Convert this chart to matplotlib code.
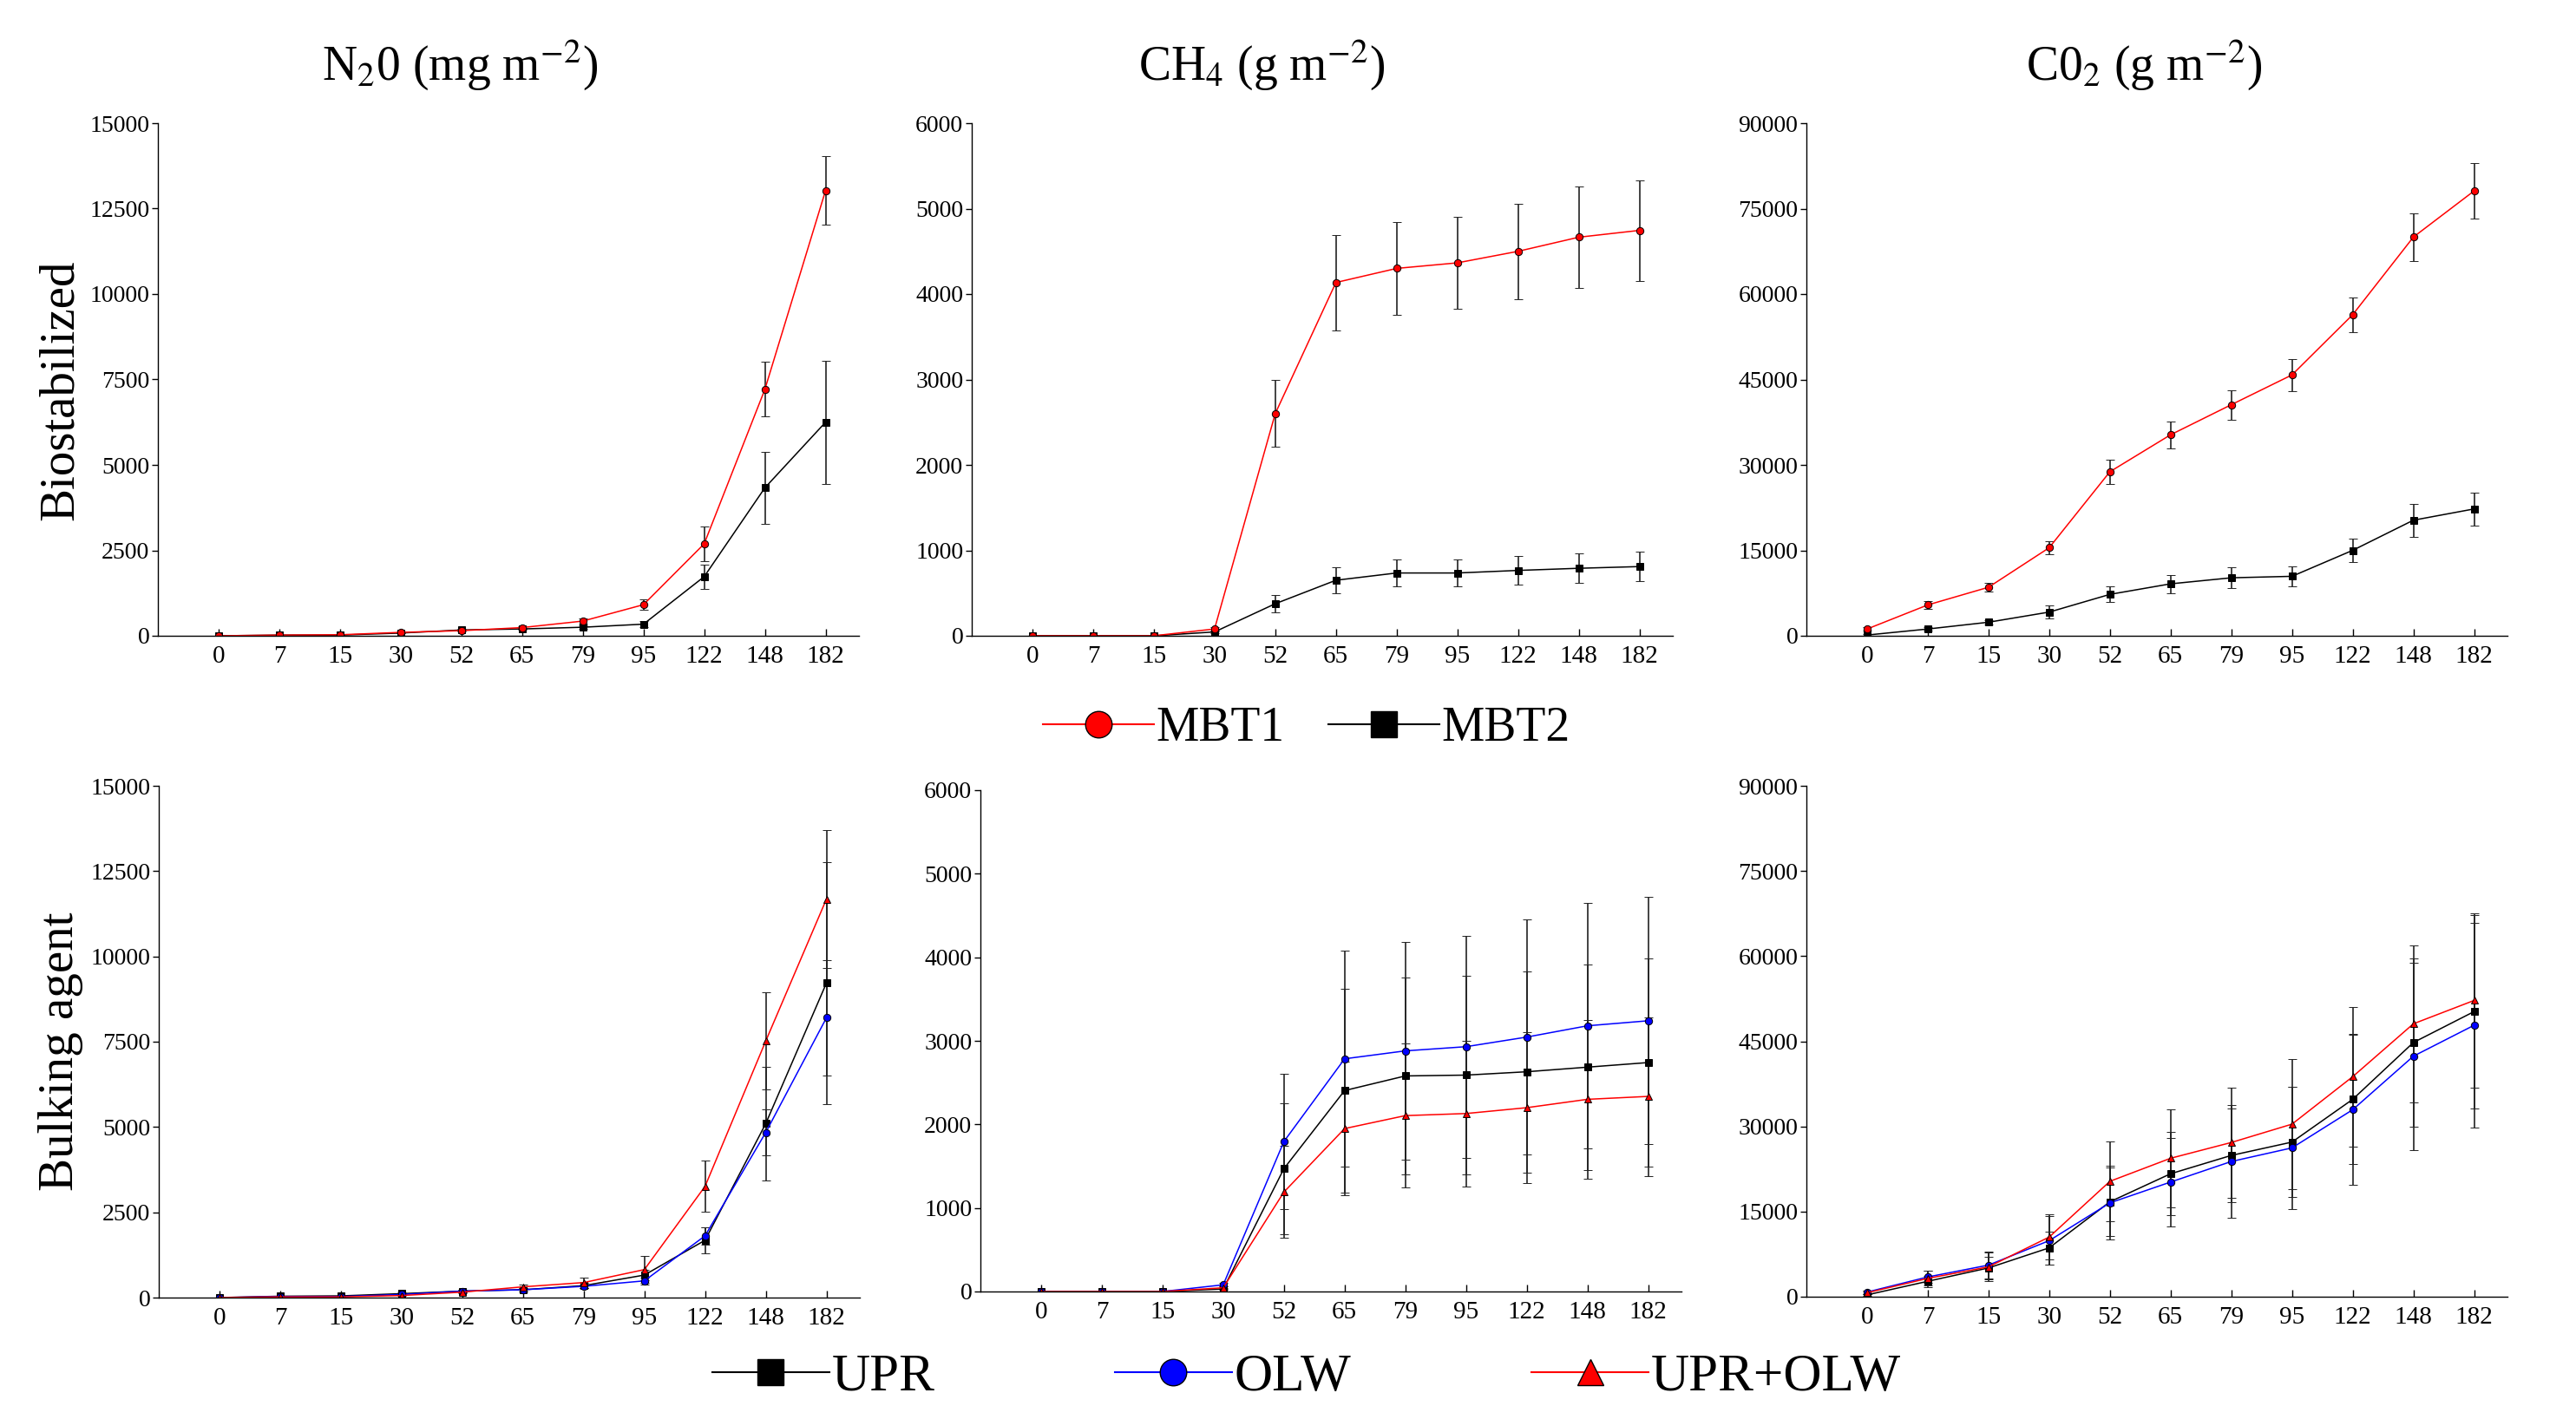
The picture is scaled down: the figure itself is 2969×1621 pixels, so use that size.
import matplotlib.pyplot as plt
from matplotlib.lines import Line2D

plt.rcParams['font.family'] = ['Liberation Serif', 'DejaVu Serif']
plt.rcParams['mathtext.fontset'] = 'stix'

days = ['0', '7', '15', '30', '52', '65', '79', '95', '122', '148', '182']

# Biostabilized (MBT1 / MBT2)
n2o_mbt1 = [0, 20, 30, 100, 150, 240, 430, 910, 2690, 7210, 13030]
n2o_mbt1_err = [0, 10, 10, 20, 30, 40, 80, 150, 500, 800, 1000]
n2o_mbt2 = [0, 20, 20, 80, 170, 200, 250, 340, 1730, 4330, 6250]
n2o_mbt2_err = [0, 5, 5, 15, 30, 30, 50, 80, 350, 1050, 1800]

ch4_mbt1 = [0, 0, 0, 80, 2600, 4135, 4300, 4365, 4500, 4665, 4745]
ch4_mbt1_err = [0, 0, 0, 20, 390, 560, 540, 540, 560, 590, 590]
ch4_mbt2 = [0, 0, 0, 45, 375, 650, 735, 735, 765, 790, 810]
ch4_mbt2_err = [0, 0, 0, 10, 105, 150, 155, 155, 165, 170, 170]

co2_mbt1 = [1190, 5420, 8520, 15460, 28800, 35290, 40570, 45800, 56370, 70000, 78100]
co2_mbt1_err = [300, 700, 700, 1200, 2100, 2400, 2600, 2800, 3000, 4200, 4900]
co2_mbt2 = [130, 1190, 2380, 4160, 7270, 9120, 10180, 10440, 15000, 20290, 22270]
co2_mbt2_err = [100, 300, 400, 1100, 1400, 1600, 1800, 1700, 2100, 2900, 2900]

# Bulking agent (UPR / OLW / UPR+OLW)
n2o_upr = [0, 40, 50, 115, 190, 230, 350, 660, 1680, 5100, 9220]
n2o_upr_err = [0, 10, 10, 30, 40, 50, 80, 150, 380, 1660, 3550]
n2o_olw = [0, 30, 30, 90, 190, 230, 330, 490, 1810, 4840, 8200]
n2o_olw_err = [0, 10, 10, 20, 40, 50, 60, 100, 250, 680, 1700]
n2o_mix = [0, 20, 20, 60, 160, 315, 440, 820, 3260, 7520, 11680]
n2o_mix_err = [0, 10, 10, 20, 40, 60, 150, 390, 750, 1420, 2020]

ch4_upr = [0, 0, 0, 30, 1470, 2405, 2580, 2590, 2630, 2685, 2740]
ch4_upr_err = [0, 0, 0, 10, 780, 1220, 1180, 1185, 1205, 1230, 1250]
ch4_olw = [0, 0, 0, 80, 1795, 2785, 2880, 2930, 3045, 3180, 3240]
ch4_olw_err = [0, 0, 0, 20, 810, 1290, 1300, 1330, 1410, 1470, 1480]
ch4_mix = [0, 0, 0, 45, 1190, 1950, 2105, 2130, 2200, 2300, 2335]
ch4_mix_err = [0, 0, 0, 15, 550, 800, 860, 870, 900, 950, 950]

co2_upr = [320, 2720, 5070, 8610, 16720, 21660, 24890, 27240, 34770, 44780, 50230]
co2_upr_err = [200, 1000, 2000, 2900, 6000, 7300, 8200, 9700, 11400, 14800, 17000]
co2_olw = [820, 3480, 5570, 9880, 16530, 20200, 23820, 26220, 32940, 42370, 47820]
co2_olw_err = [300, 1100, 2300, 4300, 6500, 7800, 9900, 10800, 13300, 16500, 18000]
co2_mix = [700, 3230, 5260, 10510, 20330, 24390, 27170, 30400, 38760, 48080, 52190]
co2_mix_err = [300, 1300, 2500, 4000, 7000, 8600, 9700, 11500, 12300, 13800, 15400]

W, H = 2969, 1621
fig = plt.figure(figsize=(W / 100, H / 100), dpi=100)


def px_axes(left, top, right, bottom):
    return fig.add_axes([left / W, 1 - bottom / H, (right - left) / W, (bottom - top) / H])


STYLE = {
    'MBT1': dict(color='red', marker='o', mfc='red'),
    'MBT2': dict(color='black', marker='s', mfc='black'),
    'UPR': dict(color='black', marker='s', mfc='black'),
    'OLW': dict(color='blue', marker='o', mfc='blue'),
    'UPR+OLW': dict(color='red', marker='^', mfc='red'),
}


def draw_panel(ax, series, ymax, ystep):
    x = list(range(len(days)))
    for name, vals, errs in series:
        st = STYLE[name]
        ax.errorbar(x, vals, yerr=errs, color=st['color'], marker=st['marker'],
                    mfc=st['mfc'], mec='black', mew=0.7, ms=6, lw=1.1,
                    ecolor='#222222', elinewidth=1.2, capsize=3.5, capthick=1.2)
    ax.set_xlim(-1.0, 10.55)
    ax.set_ylim(0, ymax)
    ax.set_xticks(x)
    ax.set_xticklabels(days)
    ax.set_yticks(range(0, ymax + 1, ystep))
    for s in ['top', 'right']:
        ax.spines[s].set_visible(False)
    for s in ['left', 'bottom']:
        ax.spines[s].set_linewidth(1.0)
    ax.tick_params(axis='y', direction='out', length=5, width=1, labelsize=20, pad=2)
    ax.tick_params(axis='x', direction='in', length=6, width=1, labelsize=21, pad=8)


ax1 = px_axes(182, 142, 990, 733)
ax2 = px_axes(1120, 142, 1928, 733)
ax3 = px_axes(2082, 142, 2890, 733)
ax4 = px_axes(183, 906, 991, 1496)
ax5 = px_axes(1130, 911, 1938, 1489)
ax6 = px_axes(2082, 906, 2890, 1495)

draw_panel(ax1, [('MBT2', n2o_mbt2, n2o_mbt2_err), ('MBT1', n2o_mbt1, n2o_mbt1_err)], 15000, 2500)
draw_panel(ax2, [('MBT2', ch4_mbt2, ch4_mbt2_err), ('MBT1', ch4_mbt1, ch4_mbt1_err)], 6000, 1000)
draw_panel(ax3, [('MBT2', co2_mbt2, co2_mbt2_err), ('MBT1', co2_mbt1, co2_mbt1_err)], 90000, 15000)
draw_panel(ax4, [('UPR', n2o_upr, n2o_upr_err), ('OLW', n2o_olw, n2o_olw_err),
                 ('UPR+OLW', n2o_mix, n2o_mix_err)], 15000, 2500)
draw_panel(ax5, [('UPR', ch4_upr, ch4_upr_err), ('OLW', ch4_olw, ch4_olw_err),
                 ('UPR+OLW', ch4_mix, ch4_mix_err)], 6000, 1000)
draw_panel(ax6, [('UPR', co2_upr, co2_upr_err), ('OLW', co2_olw, co2_olw_err),
                 ('UPR+OLW', co2_mix, co2_mix_err)], 90000, 15000)

# column titles
fig.text(530 / W, 1 - 75 / H, r'N$_2$0 (mg m$^{-2}$)', fontsize=40, ha='center', va='center')
fig.text(1454 / W, 1 - 75 / H, r'CH$_4$ (g m$^{-2}$)', fontsize=40, ha='center', va='center')
fig.text(2471 / W, 1 - 75 / H, r'C0$_2$ (g m$^{-2}$)', fontsize=40, ha='center', va='center')

# row labels
fig.text(70 / W, 1 - 450 / H, 'Biostabilized', fontsize=41, rotation=90, ha='center', va='center')
fig.text(70 / W, 1 - 1212 / H, 'Bulking agent', fontsize=41, rotation=90, ha='center', va='center')


def handle(name, ms):
    st = STYLE[name]
    return Line2D([], [], color=st['color'], marker=st['marker'], mfc=st['mfc'],
                  mec='black', mew=1.0, ms=ms, lw=1.5)


fig.legend([handle('MBT1', 22), handle('MBT2', 22)], ['MBT1', 'MBT2'],
           loc='center', bbox_to_anchor=(1506 / W, 1 - 840 / H), ncol=2, frameon=False,
           fontsize=40, handlelength=2.3, handletextpad=0.05, columnspacing=0.9)
fig.legend([handle('UPR', 22), handle('OLW', 22), handle('UPR+OLW', 22)],
           ['UPR', 'OLW', 'UPR+OLW'],
           loc='center', bbox_to_anchor=(1506 / W, 1 - 1588 / H), ncol=3, frameon=False,
           fontsize=44, handlelength=2.2, handletextpad=0.05, columnspacing=3.4)

fig.savefig('out.png', dpi=100)
